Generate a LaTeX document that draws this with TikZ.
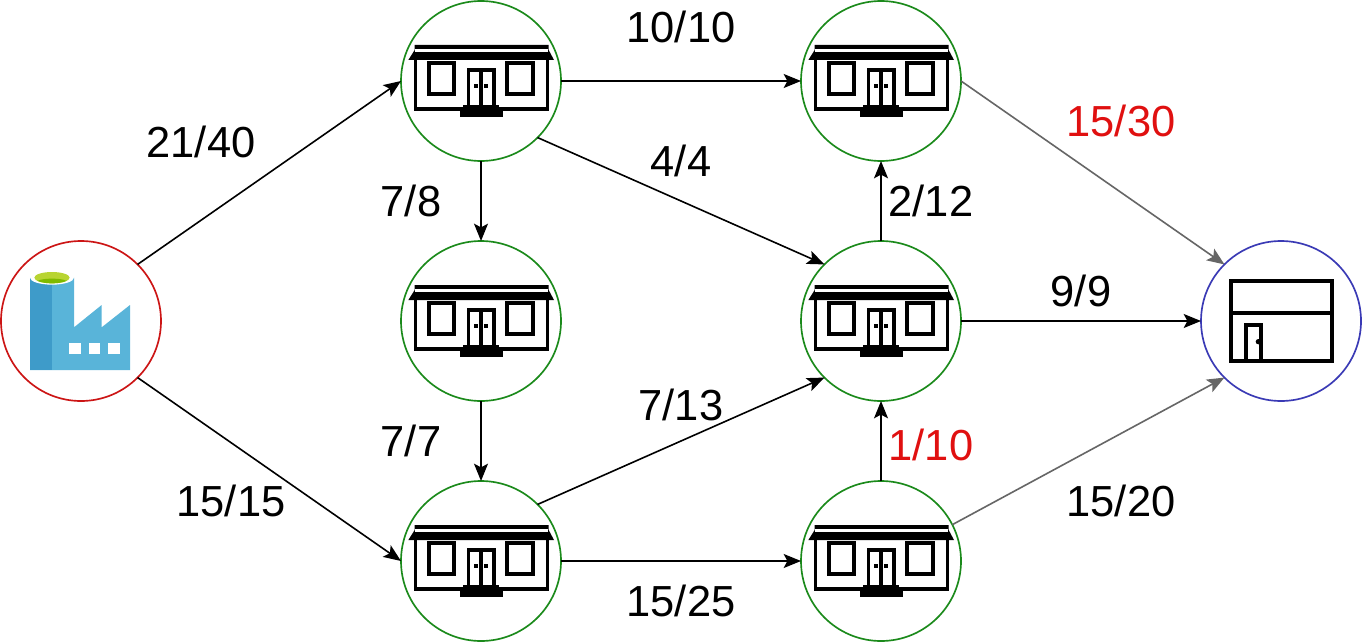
\documentclass[tikz,border=0pt]{standalone}
\usepackage{fontspec}
\setmainfont{Liberation Sans}
\usetikzlibrary{arrows.meta}
\definecolor{stnblue}{HTML}{59B4D9}
\definecolor{stndark}{HTML}{3E9BC9}
\definecolor{stngreen}{HTML}{B8D432}
\definecolor{stngreenb}{HTML}{7FBA00}
\definecolor{hgreen}{HTML}{1B8A1B}
\definecolor{sred}{HTML}{CC1515}
\definecolor{tblue}{HTML}{3A3AB5}
\definecolor{lred}{HTML}{E01010}
\definecolor{egray}{HTML}{666666}
\tikzset{
  circ/.style={circle,draw,fill=white,line width=1.25pt,minimum size=120pt,inner sep=0pt,outer sep=0pt},
  hnode/.style={circ,draw=hgreen},
  edge/.style={-{Stealth[length=13pt,width=10.5pt,inset=2.8pt]},line width=1.2pt,black},
  gedge/.style={edge,egray},
  lab/.style={font=\fontsize{32.6}{36}\selectfont,inner sep=0pt},
  rlab/.style={lab,text=lred},
  pics/house/.style={code={
    \begin{scope}[x=.25pt,y=-.25pt,shift={(-243,-243)}]
      \fill (25,180) -- (44,150) -- (44,135) -- (446,135) -- (446,150) -- (462,180) -- cycle;
      \fill[white] (46,148) rectangle (444,155);
      \draw[line width=2.6pt] (47,175) rectangle (442,327);
      \draw[line width=2.8pt] (87,190) rectangle (163,282);
      \draw[line width=2.8pt] (322,190) rectangle (398,282);
      \fill[white] (205,210) rectangle (282,320);
      \draw[line width=2.4pt] (205,325) -- (205,210) -- (282,210) -- (282,325);
      \draw[line width=2.4pt] (243,210) -- (243,325);
      \fill (223,253) rectangle (233,264);
      \fill (253,253) rectangle (263,264);
      \fill (190,316) rectangle (298,332);
      \fill (180,330) rectangle (308,351);
    \end{scope}}},
  pics/shop/.style={code={
    \begin{scope}[x=.25pt,y=-.25pt,shift={(-258,-243)}]
      \draw[line width=2.8pt] (108,122) rectangle (410,362);
      \draw[line width=2.8pt] (108,218) -- (410,218);
      \draw[line width=2.6pt] (153,362) -- (153,255) -- (198,255) -- (198,362);
      \fill (190,305) circle[radius=8];
    \end{scope}}},
  pics/factory/.style={code={
    \begin{scope}[x=.25pt,y=-.25pt,shift={(-243,-243)}]
      \fill[stnblue] (90,113) -- (222,113) -- (222,262) -- (305,195) -- (305,262) -- (390,195) -- (390,390) -- (90,390) -- cycle;
      \fill[stndark] (90,113) rectangle (155,390);
      \fill[white] (156,113) ellipse[x radius=66,y radius=21];
      \fill[stngreen] (156,113) ellipse[x radius=53,y radius=17];
      \begin{scope}
        \clip (156,113) ellipse[x radius=53,y radius=17];
        \fill[stngreenb] (156,128) ellipse[x radius=50,y radius=12];
      \end{scope}
      \fill[white] (208,308) rectangle (243,342);
      \fill[white] (266,308) rectangle (300,342);
      \fill[white] (325,308) rectangle (360,342);
    \end{scope}}}
}
\begin{document}
\begin{tikzpicture}[x=.75pt,y=-.75pt]
\useasboundingbox (0,0) rectangle (1362,642);
\fill[white] (0,0) rectangle (1362,642);
\node[circ,draw=sred] (src) at (81,321) {};
\node[hnode] (h1) at (481,81) {};
\node[hnode] (h2) at (881,81) {};
\node[hnode] (h3) at (481,321) {};
\node[hnode] (h4) at (881,321) {};
\node[hnode] (h5) at (481,561) {};
\node[hnode] (h6) at (881,561) {};
\node[circ,draw=tblue] (snk) at (1281,321) {};
\pic at (src) {factory};
\pic at (h1) {house};
\pic at (h2) {house};
\pic at (h3) {house};
\pic at (h4) {house};
\pic at (h5) {house};
\pic at (h6) {house};
\pic at (snk) {shop};
\draw[edge] (src.45) -- (h1.west);
\draw[edge] (src.-45) -- (h5.west);
\draw[edge] (h1.east) -- (h2.west);
\draw[edge] (h1.-45) -- (h4.135);
\draw[edge] (h1.south) -- (h3.north);
\draw[edge] (h3.south) -- (h5.north);
\draw[edge] (h5.45) -- (h4.-135);
\draw[edge] (h5.east) -- (h6.west);
\draw[edge] (h6.north) -- (h4.south);
\draw[edge] (h4.north) -- (h2.south);
\draw[edge] (h4.east) -- (snk.west);
\draw[gedge] (h2.east) -- (snk.135);
\draw[gedge] (h6.27) -- (snk.-135);
\node[lab] (l1) at (201,142) {21/40};
\node[lab] (l2) at (231,501) {15/15};
\node[lab] (l3) at (411,201) {7/8};
\node[lab] (l4) at (411,441) {7/7};
\node[lab] (l5) at (681,27) {10/10};
\node[lab] (l6) at (681,161) {4/4};
\node[lab] (l7) at (681,405) {7/13};
\node[lab] (l8) at (681,601) {15/25};
\node[lab] (l9) at (931,201) {2/12};
\node[rlab] (l10) at (931,445) {1/10};
\node[lab] (l11) at (1081,291) {9/9};
\node[rlab] (l12) at (1121,121) {15/30};
\node[lab] (l13) at (1121,501) {15/20};
\end{tikzpicture}
\end{document}
